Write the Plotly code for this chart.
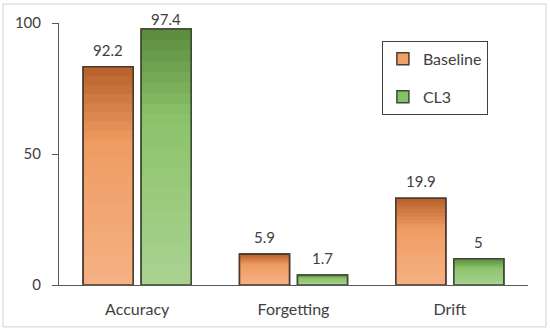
import plotly.graph_objects as go

# ---- data ----
categories = ["Accuracy", "Forgetting", "Drift"]
baseline_heights = [83.3, 11.8, 33.1]
cl3_heights = [97.7, 3.8, 10.0]
baseline_labels = ["92.2", "5.9", "19.9"]
cl3_labels = ["97.4", "1.7", "5"]
y_ticks = [0, 50, 100]

FONT = "Lato"
TXT = "#404040"
N_BANDS = 24
Y_MAX = 100
PLOT_H = 262  # plot-area height in px (332 - 23 - 47)


def hex2rgb(h):
    h = h.lstrip("#")
    return [int(h[i:i + 2], 16) for i in (0, 2, 4)]


def mix(c1, c2, t):
    a, b = hex2rgb(c1), hex2rgb(c2)
    return "rgb({},{},{})".format(*[round(a[i] + (b[i] - a[i]) * t) for i in range(3)])


def grad(p, light, mid, dark, pm=0.65):
    if p >= pm:
        return mix(mid, dark, (p - pm) / (1 - pm))
    return mix(light, mid, p / pm)


series = [
    dict(name="Baseline", h=baseline_heights, lab=baseline_labels, shift=-29,
         light="#f5b184", mid="#ef9c62", dark="#b65f2b", border="#4d3a2c", leg="#f0a168"),
    dict(name="CL3", h=cl3_heights, lab=cl3_labels, shift=29,
         light="#aad391", mid="#8cc36a", dark="#5a8b3c", border="#3d4a35", leg="#86c063"),
]

fig = go.Figure()
for s in series:
    fig.add_bar(x=categories, y=s["h"], name=s["name"], offsetgroup=s["name"],
                legendgroup=s["name"],
                marker=dict(color=s["leg"], line=dict(color=s["border"], width=1.5)))
    for k in range(N_BANDS, 0, -1):
        p = (k - 0.5) / N_BANDS
        fig.add_bar(x=categories, y=[v * k / N_BANDS for v in s["h"]],
                    offsetgroup=s["name"], legendgroup=s["name"], showlegend=False,
                    hoverinfo="skip",
                    marker=dict(color=grad(p, s["light"], s["mid"], s["dark"]),
                                line=dict(width=0)))
    fig.add_bar(x=categories, y=s["h"], offsetgroup=s["name"], legendgroup=s["name"],
                showlegend=False, hoverinfo="skip",
                marker=dict(color="rgba(0,0,0,0)", line=dict(color=s["border"], width=1.6)))
    for c, v, t in zip(categories, s["h"], s["lab"]):
        room = (Y_MAX - v) * PLOT_H / Y_MAX + 4
        fig.add_annotation(x=c, y=v, text=t, showarrow=False, xshift=s["shift"],
                           yshift=min(17, room), yanchor="middle",
                           font=dict(family=FONT, size=15, color=TXT))

fig.update_layout(
    width=550, height=332,
    margin=dict(l=59, r=22, t=23, b=47),
    paper_bgcolor="white", plot_bgcolor="white",
    barmode="group", bargap=0.258, bargroupgap=0.138,
    font=dict(family=FONT, size=16, color=TXT),
    showlegend=True,
    legend=dict(x=0.6885, y=0.9315, xanchor="left", yanchor="top",
                bordercolor="#404040", borderwidth=1, bgcolor="white",
                traceorder="grouped", tracegroupgap=14,
                font=dict(family=FONT, size=16, color=TXT)),
    xaxis=dict(showline=True, linecolor="#595959", linewidth=1, ticks="",
               showgrid=False, ticklabelstandoff=10,
               tickfont=dict(family=FONT, size=16, color=TXT)),
    yaxis=dict(range=[0, Y_MAX], tickvals=y_ticks, showline=True, linecolor="#595959",
               linewidth=1, ticks="outside", ticklen=6, tickcolor="#595959",
               showgrid=False, zeroline=False, ticklabelstandoff=8,
               tickfont=dict(family=FONT, size=15, color=TXT)),
    shapes=[dict(type="rect", xref="paper", yref="paper",
                 x0=-0.1194, x1=1.0384, y0=-0.160, y1=1.0725,
                 line=dict(color="#d0d0d0", width=1), layer="below")],
)

fig.write_html("out.html", config={"displayModeBar": False},
               post_script="document.body.style.margin='0px';")
